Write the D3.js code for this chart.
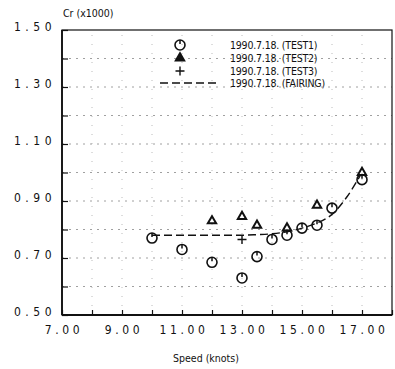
<!DOCTYPE html>
<html>
<head>
<meta charset="utf-8">
<script src="https://cdn.jsdelivr.net/npm/d3@7"></script>
<style>
  body { margin: 0; background: #fff; }
  svg text { font-family: "Liberation Sans Narrow", "DejaVu Sans Condensed", "Liberation Sans", sans-serif; fill: #111; }
</style>
</head>
<body>
<svg id="chart" width="395" height="369"></svg>
<script>
// data
const test1Speed = [10.0, 11.0, 12.0, 13.0, 13.5, 14.0, 14.5, 15.0, 15.5, 16.0, 17.0];
const test1Cr    = [0.77, 0.73, 0.685, 0.63, 0.705, 0.765, 0.78, 0.805, 0.815, 0.875, 0.975];
const test2Speed = [12.0, 13.0, 13.5, 14.5, 15.5, 17.0];
const test2Cr    = [0.83, 0.845, 0.815, 0.805, 0.885, 1.0];
const test3Speed = [13.0];
const test3Cr    = [0.765];
const fairSpeed  = [10.0, 11.0, 12.0, 13.0, 13.5, 14.0, 14.5, 15.0, 15.5, 16.0, 16.5, 17.0];
const fairCr     = [0.78, 0.78, 0.78, 0.78, 0.782, 0.785, 0.792, 0.805, 0.823, 0.853, 0.915, 1.0];
const xLabels = [7, 9, 11, 13, 15, 17];
const yLabels = [0.5, 0.7, 0.9, 1.1, 1.3, 1.5];
const legendNames = ["1990.7.18. (TEST1)", "1990.7.18. (TEST2)", "1990.7.18. (TEST3)", "1990.7.18. (FAIRING)"];

const svg = d3.select('#chart');
const x = d3.scaleLinear().domain([7, 18]).range([62, 392]);
const y = d3.scaleLinear().domain([0.5, 1.5]).range([315, 30]);

const xGrid = d3.range(8, 18);
const yGrid = d3.range(6, 15).map(v => v / 10);

// dotted grid
svg.append('g').selectAll('line').data(yGrid).join('line')
    .attr('x1', x(7)).attr('x2', x(18))
    .attr('y1', d => y(d)).attr('y2', d => y(d))
    .attr('stroke', '#888').attr('stroke-width', 0.8)
    .attr('stroke-dasharray', '2,5');
svg.append('g').selectAll('line').data(xGrid).join('line')
    .attr('x1', d => x(d)).attr('x2', d => x(d))
    .attr('y1', y(0.5)).attr('y2', y(1.5))
    .attr('stroke', '#aaa').attr('stroke-width', 0.8)
    .attr('stroke-dasharray', '1,8');

// frame
svg.append('rect')
    .attr('x', x(7)).attr('y', y(1.5))
    .attr('width', x(18) - x(7)).attr('height', y(0.5) - y(1.5))
    .attr('fill', 'none').attr('stroke', '#111').attr('stroke-width', 1.2);
svg.append('line')
    .attr('x1', x(7)).attr('x2', x(18)).attr('y1', y(0.5)).attr('y2', y(0.5))
    .attr('stroke', '#111').attr('stroke-width', 2);
svg.append('line')
    .attr('x1', x(7)).attr('x2', x(7)).attr('y1', y(0.5)).attr('y2', y(1.5))
    .attr('stroke', '#111').attr('stroke-width', 1.8);

// axes (ticks pointing inward)
const xAxis = svg.append('g').attr('transform', `translate(0,${y(0.5)})`)
    .call(d3.axisBottom(x).tickValues(d3.range(7, 19)).tickSize(-5).tickFormat(''));
xAxis.select('.domain').remove();
xAxis.selectAll('line').attr('stroke', '#111').attr('stroke-width', 1.2);

const yAxis = svg.append('g').attr('transform', `translate(${x(7)},0)`)
    .call(d3.axisLeft(y).tickValues(d3.range(5, 16).map(v => v / 10)).tickSize(-6).tickFormat(''));
yAxis.select('.domain').remove();
yAxis.selectAll('line').attr('stroke', '#111').attr('stroke-width', 1.2);

// tick labels, typewriter spaced like the scan
svg.append('g').selectAll('text').data(xLabels).join('text')
    .attr('x', d => x(d) + 2).attr('y', 334)
    .attr('text-anchor', 'middle')
    .attr('font-size', 12)
    .style('letter-spacing', '3.6px')
    .style('font-family', '"DejaVu Sans Condensed", sans-serif')
    .text(d => d3.format('.2f')(d));

svg.append('g').selectAll('text').data(yLabels).join('text')
    .attr('x', 56).attr('y', d => y(d) + 1)
    .attr('text-anchor', 'end')
    .attr('font-size', 12)
    .style('letter-spacing', '4.5px')
    .style('font-family', '"DejaVu Sans Condensed", sans-serif')
    .text(d => d3.format('.2f')(d));

svg.append('text').attr('x', 63).attr('y', 17).attr('font-size', 10.5).text('Cr (x1000)');
svg.append('text').attr('x', 206).attr('y', 362).attr('text-anchor', 'middle')
    .attr('font-size', 10.5).text('Speed (knots)');

// markers
function circleMark(g) {
    g.append('circle').attr('r', 5).attr('fill', 'none')
        .attr('stroke', '#111').attr('stroke-width', 1.6);
    g.append('line').attr('x1', 0).attr('x2', 0).attr('y1', -5).attr('y2', -1)
        .attr('stroke', '#111').attr('stroke-width', 1.5);
}
function triMark(g, solid) {
    g.append('path').attr('d', d3.symbol(d3.symbolTriangle, 30)())
        .attr('fill', solid ? '#111' : '#fff').attr('stroke', '#111').attr('stroke-width', 2);
}
function plusMark(g) {
    g.append('path').attr('d', 'M-4.5,0H4.5M0,-4.5V4.5')
        .attr('stroke', '#111').attr('stroke-width', 1.4);
}

// fairing curve
const line = d3.line().x(d => x(d[0])).y(d => y(d[1])).curve(d3.curveMonotoneX);
svg.append('path')
    .datum(d3.zip(fairSpeed, fairCr))
    .attr('d', line)
    .attr('fill', 'none').attr('stroke', '#111').attr('stroke-width', 1.4)
    .attr('stroke-dasharray', '8,4');

svg.append('g').selectAll('g').data(d3.zip(test2Speed, test2Cr)).join('g')
    .attr('transform', d => `translate(${x(d[0])},${y(d[1])})`)
    .each(function () { triMark(d3.select(this), false); });
svg.append('g').selectAll('g').data(d3.zip(test3Speed, test3Cr)).join('g')
    .attr('transform', d => `translate(${x(d[0])},${y(d[1])})`)
    .each(function () { plusMark(d3.select(this)); });
svg.append('g').selectAll('g').data(d3.zip(test1Speed, test1Cr)).join('g')
    .attr('transform', d => `translate(${x(d[0])},${y(d[1])})`)
    .each(function () { circleMark(d3.select(this)); });

// legend
const legend = svg.append('g');
const rowY = [45, 58, 71, 83];
legendNames.forEach((name, i) => {
    const g = legend.append('g').attr('transform', `translate(180,${rowY[i]})`);
    if (i === 0) circleMark(g);
    if (i === 1) triMark(g, true);
    if (i === 2) plusMark(g);
    if (i === 3) {
        g.append('line').attr('x1', -20).attr('x2', 40).attr('y1', 0).attr('y2', 0)
            .attr('stroke', '#111').attr('stroke-width', 1.4).attr('stroke-dasharray', '8,4');
    }
    legend.append('text').attr('x', 230).attr('y', rowY[i] + 4)
        .attr('font-size', 10.5).style('letter-spacing', '-0.2px').text(name);
});
</script>
</body>
</html>
